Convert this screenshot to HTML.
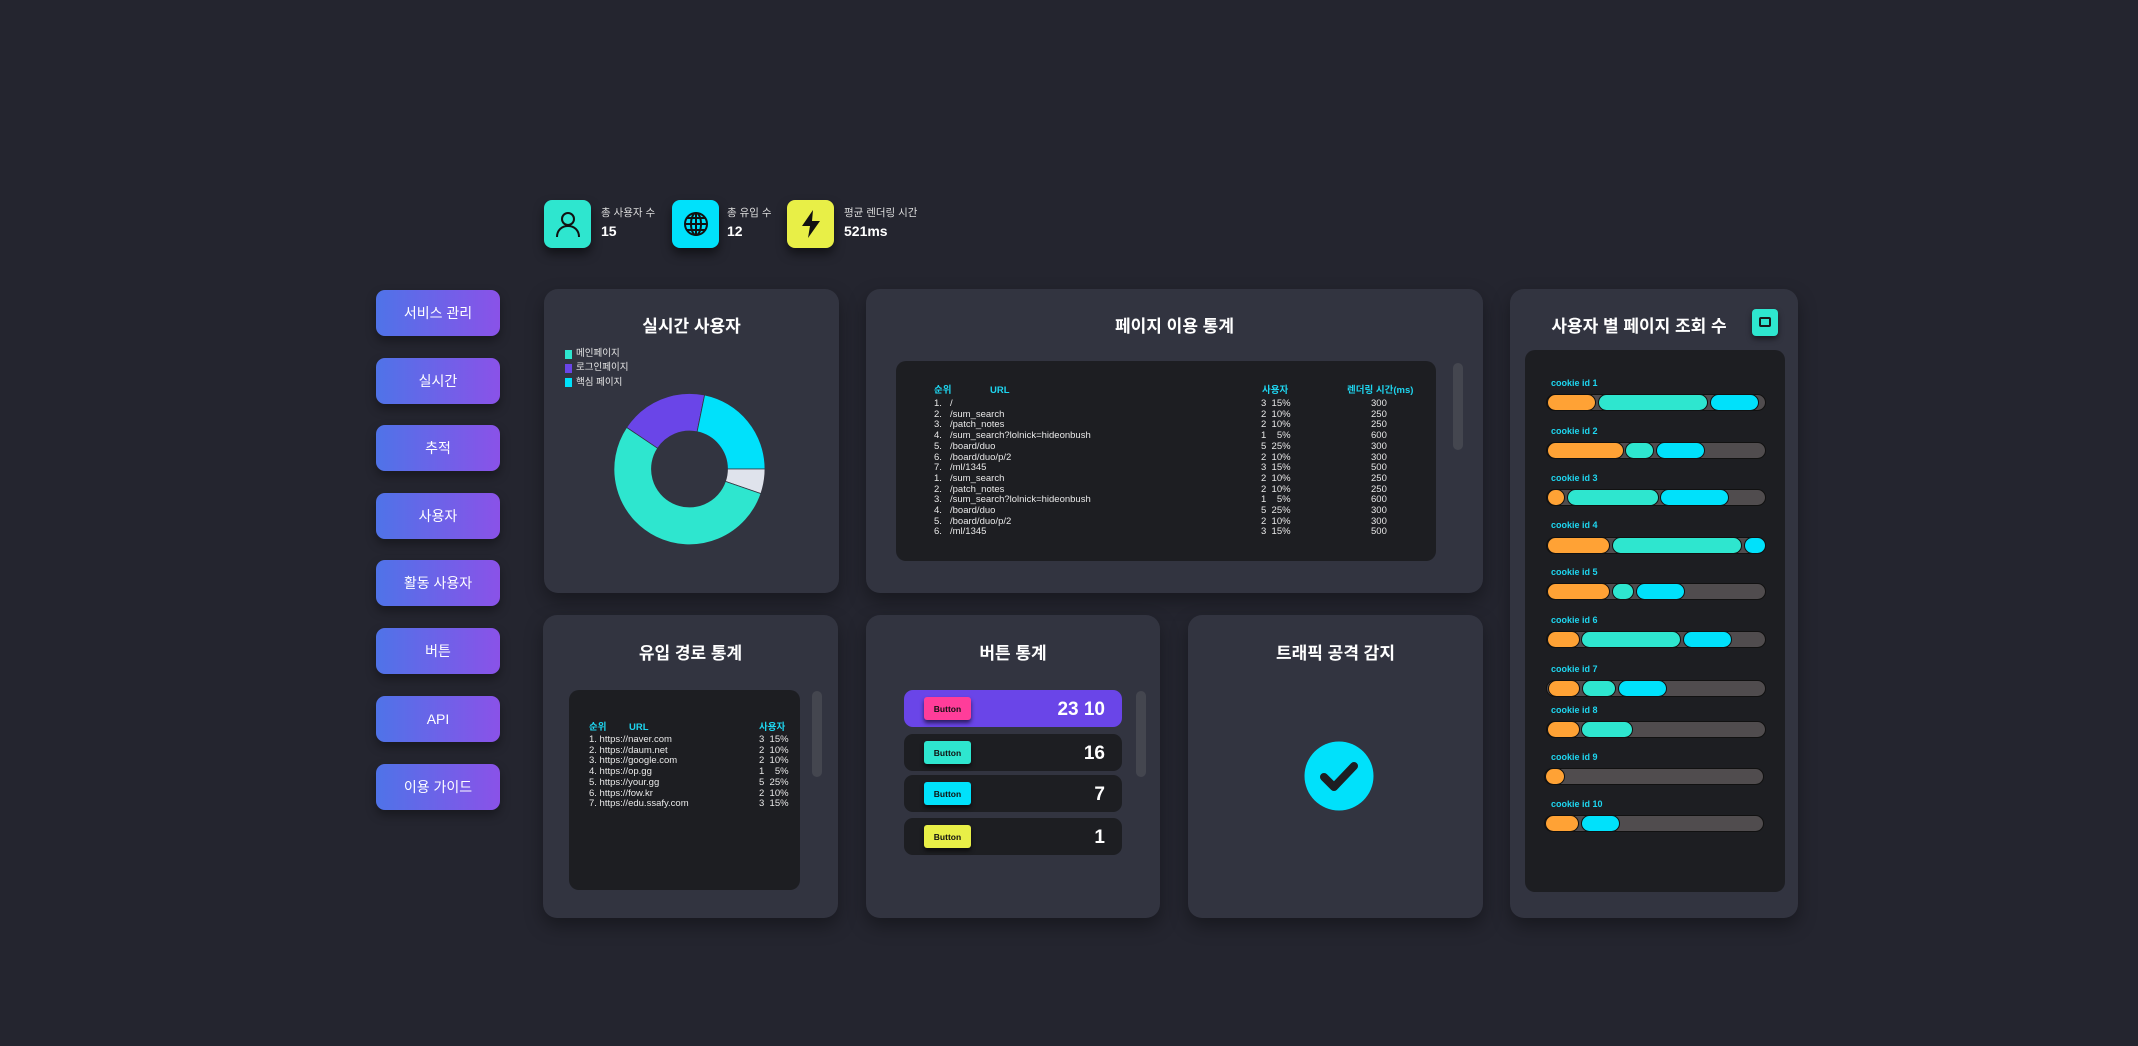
<!DOCTYPE html>
<html><head><meta charset="utf-8"><style>
*{margin:0;padding:0;box-sizing:border-box}
body{width:2138px;height:1046px;background:#24252f;position:relative;overflow:hidden;font-family:"Liberation Sans","Noto Sans CJK KR",sans-serif;color:#fff}
.a{position:absolute}
.card{position:absolute;background:#323440;border-radius:14px;box-shadow:0 8px 18px rgba(0,0,0,.35)}
.panel{position:absolute;background:#1d1e22;border-radius:10px}
.title{position:absolute;left:0;right:0;text-align:center;font-weight:bold;font-size:17px}
.nav{position:absolute;left:376px;width:124px;height:46px;border-radius:9px;background:linear-gradient(90deg,#4f73e8,#8a52e8);font-size:14px;display:flex;align-items:center;justify-content:center;box-shadow:0 5px 10px rgba(0,0,0,.35)}
.ic{position:absolute;top:200px;width:47px;height:48px;border-radius:8px;display:flex;align-items:center;justify-content:center;box-shadow:0 6px 10px rgba(0,0,0,.5)}
.sl{position:absolute;top:205px;font-size:10.5px;color:#ddd}
.sv{position:absolute;top:223px;font-size:14px;font-weight:bold}
.sb{position:absolute;background:#44464f;border-radius:6px;width:10px}
.t{position:absolute;font-size:9.5px;color:#e8e8e8;line-height:10.7px;white-space:pre}
.h{color:#1ed6f0;font-weight:bold}
.br{position:absolute;left:1546px;width:220px;height:17px;border-radius:9px;background:#504c4e;border:1px solid #111}
.seg{position:absolute;top:-1px;height:17px;border-radius:9px;border:1px solid #111}
.o{background:#ffa235}.g{background:#2ee6cf}.c{background:#00e1fb}
.lb{position:absolute;left:1551px;font-size:9px;font-weight:bold;color:#1ed6f0}
.row{position:absolute;left:904px;width:218px;height:37px;border-radius:9px;background:#1d1e22}
.chip{position:absolute;left:20px;top:7px;width:47px;height:23px;border-radius:3px;font-size:8.5px;font-weight:bold;color:#111;display:flex;align-items:center;justify-content:center;box-shadow:0 3px 4px rgba(0,0,0,.6)}
.num{position:absolute;right:17px;top:9px;font-size:19px;font-weight:bold}
</style></head><body>

<div class="ic" style="left:544px;background:#2ee6cf"><svg width="28" height="28" viewBox="0 0 28 28" fill="none" stroke="#111" stroke-width="2"><circle cx="14" cy="9" r="6"/><path d="M3 27c0-7 5-11 11-11s11 4 11 11"/></svg></div>
<div class="sl" style="left:601px">총 사용자 수</div><div class="sv" style="left:601px">15</div>
<div class="ic" style="left:672px;background:#00e1fb"><svg width="26" height="26" viewBox="0 0 26 26" fill="none" stroke="#111" stroke-width="2"><circle cx="13" cy="13" r="11"/><ellipse cx="13" cy="13" rx="5" ry="11"/><path d="M2 13h22M4 7h18M4 19h18M13 2v22"/></svg></div>
<div class="sl" style="left:727px">총 유입 수</div><div class="sv" style="left:727px">12</div>
<div class="ic" style="left:787px;background:#e8ef47"><svg width="24" height="30" viewBox="0 0 24 30"><path d="M14 1L3 17h8l-2 12 12-17h-8z" fill="#111"/></svg></div>
<div class="sl" style="left:844px">평균 렌더링 시간</div><div class="sv" style="left:844px">521ms</div>

<div class="nav" style="top:290px">서비스 관리</div>
<div class="nav" style="top:358px">실시간</div>
<div class="nav" style="top:425px">추적</div>
<div class="nav" style="top:493px">사용자</div>
<div class="nav" style="top:560px">활동 사용자</div>
<div class="nav" style="top:628px">버튼</div>
<div class="nav" style="top:696px">API</div>
<div class="nav" style="top:764px">이용 가이드</div>

<div class="card" style="left:544px;top:289px;width:295px;height:304px"><div class="title" style="top:23px">실시간 사용자</div></div>
<div class="a" style="left:565px;top:350px;width:7px;height:9px;background:#2ee6cf"></div><div class="t" style="left:576px;top:349px">메인페이지</div>
<div class="a" style="left:565px;top:364px;width:7px;height:9px;background:#6a45e8"></div><div class="t" style="left:576px;top:363px">로그인페이지</div>
<div class="a" style="left:565px;top:378px;width:7px;height:9px;background:#00e1fb"></div><div class="t" style="left:576px;top:378px">핵심 페이지</div>
<svg class="a" style="left:0;top:0" width="2138" height="1046">
<g transform="translate(689.5,469)" stroke="#323440" stroke-width="0.8">
<path d="M-62.9,-41.6 A75.5,75.5 0 0 1 15.1,-74 L7.6,-37.2 A38,38 0 0 0 -31.9,-20.7Z" fill="#6a45e8"/>
<path d="M15.1,-74 A75.5,75.5 0 0 1 75.5,0 L38,0 A38,38 0 0 0 7.6,-37.2Z" fill="#00e1fb"/>
<path d="M75.5,0 A75.5,75.5 0 0 1 71.4,24.6 L35.9,12.4 A38,38 0 0 0 38,0Z" fill="#dfe3ec"/>
<path d="M71.4,24.6 A75.5,75.5 0 1 1 -62.9,-41.6 L-31.9,-20.7 A38,38 0 1 0 35.9,12.4Z" fill="#2ee6cf"/>
</g></svg>

<div class="card" style="left:866px;top:289px;width:617px;height:304px"><div class="title" style="top:23px">페이지 이용 통계</div></div>
<div class="panel" style="left:896px;top:361px;width:540px;height:200px"></div>
<div class="sb" style="left:1453px;top:363px;height:87px"></div>
<div class="t h" style="left:934px;top:386px">순위</div><div class="t h" style="left:990px;top:386px">URL</div>
<div class="t h" style="left:1262px;top:386px">사용자</div><div class="t h" style="left:1347px;top:386px">렌더링 시간(ms)</div>
<div class="t" style="left:934px;top:399px">1.
2.
3.
4.
5.
6.
7.
1.
2.
3.
4.
5.
6.</div>
<div class="t" style="left:950px;top:399px">/
/sum_search
/patch_notes
/sum_search?lolnick=hideonbush
/board/duo
/board/duo/p/2
/ml/1345
/sum_search
/patch_notes
/sum_search?lolnick=hideonbush
/board/duo
/board/duo/p/2
/ml/1345</div>
<div class="t" style="left:1261px;top:399px">3  15%
2  10%
2  10%
1    5%
5  25%
2  10%
3  15%
2  10%
2  10%
1    5%
5  25%
2  10%
3  15%</div>
<div class="t" style="left:1371px;top:399px">300
250
250
600
300
300
500
250
250
600
300
300
500</div>

<div class="card" style="left:1510px;top:289px;width:288px;height:629px"><div class="title" style="top:23px;left:-30px">사용자 별 페이지 조회 수</div></div>
<div class="a" style="left:1752px;top:309px;width:26px;height:27px;border-radius:4px;background:#2ee6cf;box-shadow:0 3px 6px rgba(0,0,0,.5)"><div class="a" style="left:7px;top:8px;width:12px;height:10px;border:2px solid #1a1a1a;border-radius:2px"></div></div>
<div class="panel" style="left:1525px;top:350px;width:260px;height:542px"></div>

<div class="lb" style="top:378px">cookie id 1</div>
<div class="br" style="top:394px"><div class="seg o" style="left:0;width:49px"></div><div class="seg g" style="left:51px;width:110px"></div><div class="seg c" style="left:163px;width:49px"></div></div>
<div class="lb" style="top:426px">cookie id 2</div>
<div class="br" style="top:442px"><div class="seg o" style="left:0;width:77px"></div><div class="seg g" style="left:78px;width:29px"></div><div class="seg c" style="left:109px;width:49px"></div></div>
<div class="lb" style="top:473px">cookie id 3</div>
<div class="br" style="top:489px"><div class="seg o" style="left:0;width:18px"></div><div class="seg g" style="left:20px;width:92px"></div><div class="seg c" style="left:113px;width:69px"></div></div>
<div class="lb" style="top:520px">cookie id 4</div>
<div class="br" style="top:537px"><div class="seg o" style="left:0;width:63px"></div><div class="seg g" style="left:65px;width:130px"></div><div class="seg c" style="left:197px;width:22px"></div></div>
<div class="lb" style="top:567px">cookie id 5</div>
<div class="br" style="top:583px"><div class="seg o" style="left:0;width:63px"></div><div class="seg g" style="left:65px;width:22px"></div><div class="seg c" style="left:89px;width:49px"></div></div>
<div class="lb" style="top:615px">cookie id 6</div>
<div class="br" style="top:631px"><div class="seg o" style="left:0;width:33px"></div><div class="seg g" style="left:34px;width:100px"></div><div class="seg c" style="left:136px;width:49px"></div></div>
<div class="lb" style="top:664px">cookie id 7</div>
<div class="br" style="top:680px"><div class="seg o" style="left:1px;width:32px"></div><div class="seg g" style="left:35px;width:34px"></div><div class="seg c" style="left:71px;width:49px"></div></div>
<div class="lb" style="top:705px">cookie id 8</div>
<div class="br" style="top:721px"><div class="seg o" style="left:0;width:33px"></div><div class="seg g" style="left:34px;width:52px"></div></div>
<div class="lb" style="top:752px">cookie id 9</div>
<div class="br" style="top:768px;left:1544px"><div class="seg o" style="left:0;width:20px"></div></div>
<div class="lb" style="top:799px">cookie id 10</div>
<div class="br" style="top:815px;left:1544px"><div class="seg o" style="left:0;width:34px"></div><div class="seg c" style="left:36px;width:39px"></div></div>

<div class="card" style="left:543px;top:615px;width:295px;height:303px"><div class="title" style="top:24px">유입 경로 통계</div></div>
<div class="panel" style="left:569px;top:690px;width:231px;height:200px"></div>
<div class="sb" style="left:812px;top:691px;height:86px"></div>
<div class="t h" style="left:589px;top:723px">순위</div><div class="t h" style="left:629px;top:723px">URL</div><div class="t h" style="left:759px;top:723px">사용자</div>
<div class="t" style="left:589px;top:735px">1. https://naver.com
2. https://daum.net
3. https://google.com
4. https://op.gg
5. https://your.gg
6. https://fow.kr
7. https://edu.ssafy.com</div>
<div class="t" style="left:759px;top:735px">3  15%
2  10%
2  10%
1    5%
5  25%
2  10%
3  15%</div>

<div class="card" style="left:866px;top:615px;width:294px;height:303px"><div class="title" style="top:24px">버튼 통계</div></div>
<div class="sb" style="left:1136px;top:691px;height:86px"></div>
<div class="row" style="top:690px;background:#6a45e8"><div class="chip" style="background:#ff3d9a">Button</div><div class="num">23 10</div></div>
<div class="row" style="top:734px"><div class="chip" style="background:#2ee6cf">Button</div><div class="num">16</div></div>
<div class="row" style="top:775px"><div class="chip" style="background:#00e1fb">Button</div><div class="num">7</div></div>
<div class="row" style="top:818px"><div class="chip" style="background:#e8ef47">Button</div><div class="num">1</div></div>

<div class="card" style="left:1188px;top:615px;width:295px;height:303px"><div class="title" style="top:24px">트래픽 공격 감지</div></div>
<svg class="a" style="left:1304px;top:741px" width="70" height="70"><circle cx="35" cy="35" r="34.5" fill="#00e1fb"/><path d="M20 36l10 10 20-21" fill="none" stroke="#1d1e22" stroke-width="8" stroke-linecap="round" stroke-linejoin="round"/></svg>

</body></html>
